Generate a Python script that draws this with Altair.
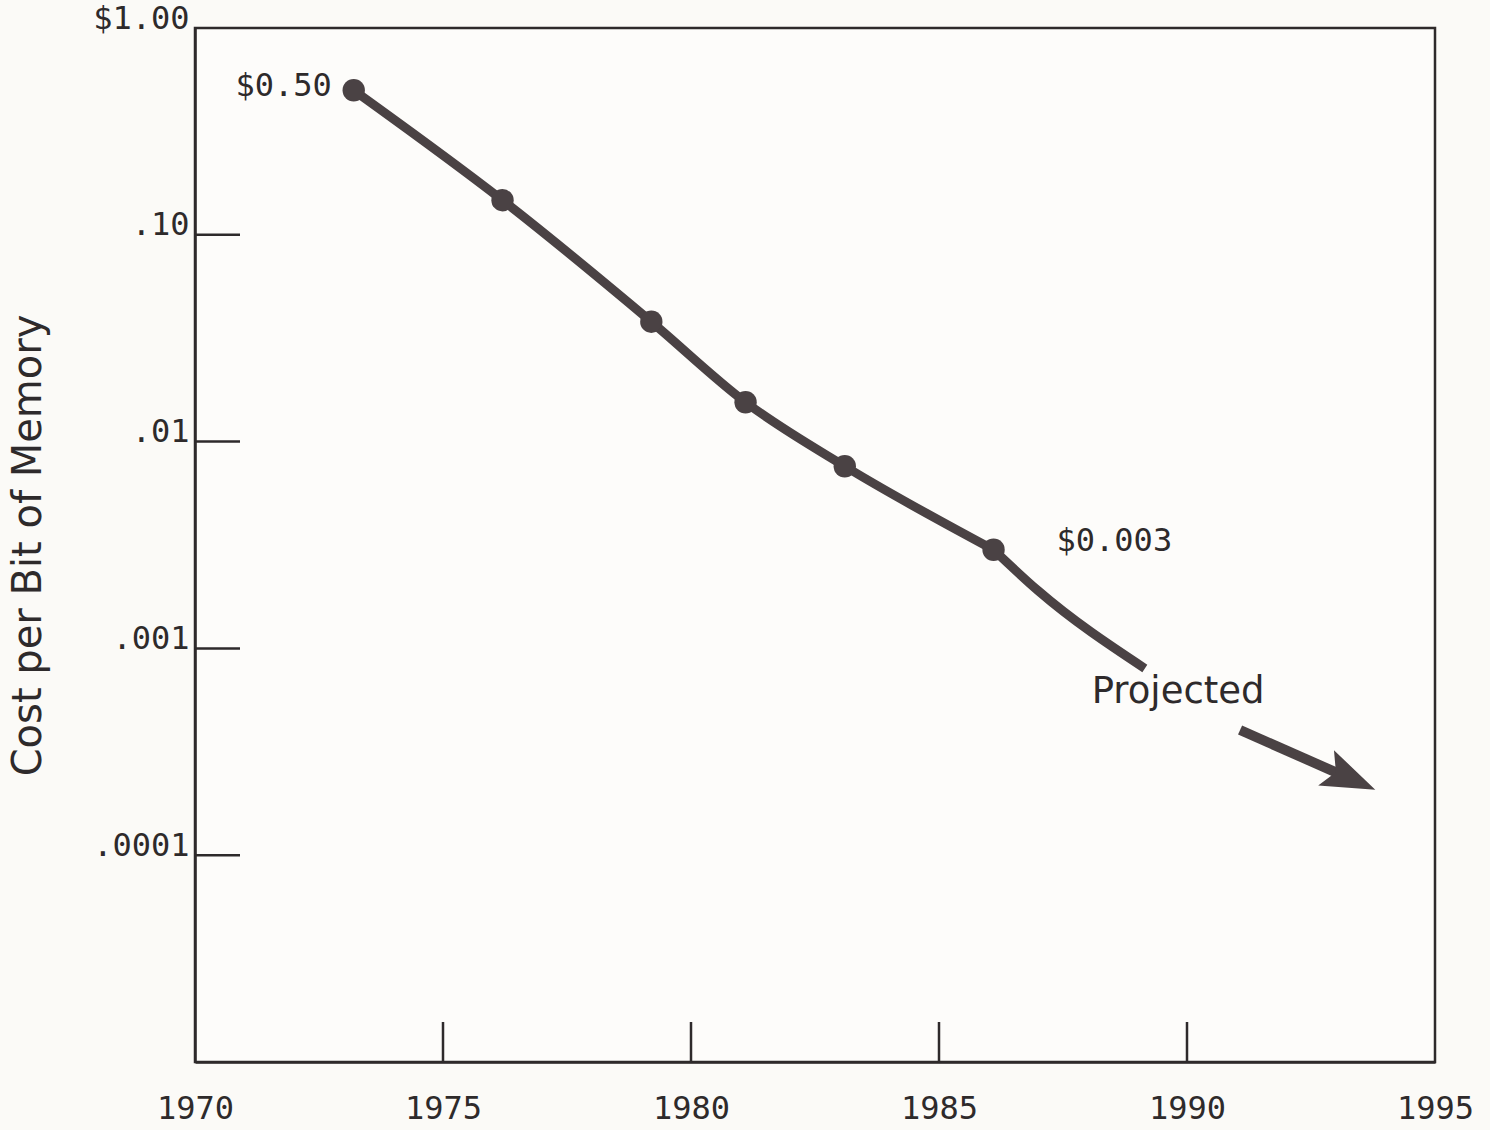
import altair as alt
import pandas as pd

# Measured cost per bit of memory (dollars)
years = [1973.2, 1976.2, 1979.2, 1981.1, 1983.1, 1986.1]
costs = [0.50, 0.147, 0.038, 0.0155, 0.0076, 0.003]

# Projected continuation beyond the last measurement
proj_years = [1986.1, 1987.0, 1989.15]
proj_costs = [0.003, 0.0019, 0.0008]

# Arrow showing the projected trend
arrow_years = [1991.07, 1993.3]
arrow_costs = [0.000403, 0.000234]
arrow_head_year = [1993.3]
arrow_head_cost = [0.000234]

# Value labels at the first and last measured points
value_labels = ["$0.50", "$0.003"]
value_label_years = [years[0], years[-1]]
value_label_costs = [costs[0], costs[-1]]

note_text = ["Projected"]
note_year = [1989.82]
note_cost = [0.000615]

y_ticks = [1.0, 0.1, 0.01, 0.001, 0.0001]
y_tick_labels = ["$1.00", ".10", ".01", ".001", ".0001"]
x_ticks = [1970, 1975, 1980, 1985, 1990, 1995]
inner_x_ticks = [1975, 1980, 1985, 1990]
inner_y_ticks = [0.1, 0.01, 0.001, 0.0001]

INK = "#4a4244"
AXIS_INK = "#2e2a2b"
MONO = "DejaVu Sans Mono"
SANS = "DejaVu Sans"

measured = pd.DataFrame({"year": years, "cost": costs})
projected = pd.DataFrame({"year": proj_years, "cost": proj_costs})
arrow = pd.DataFrame({"year": arrow_years, "cost": arrow_costs})
head = pd.DataFrame({"year": arrow_head_year, "cost": arrow_head_cost})
labels = pd.DataFrame({"year": value_label_years, "cost": value_label_costs, "text": value_labels})
note = pd.DataFrame({"year": note_year, "cost": note_cost, "text": note_text})
xt = pd.DataFrame({"year": inner_x_ticks})
yt = pd.DataFrame({"cost": inner_y_ticks})

# Tick label lookup by numeric comparison (tolerant of float representation)
label_expr = "".join(
    f"abs(datum.value - {v}) < {v} * 1e-6 ? '{t}' : " for v, t in zip(y_ticks, y_tick_labels)
) + "''"

x_scale = alt.Scale(domain=[1970, 1995], nice=False, zero=False)
y_scale = alt.Scale(type="log", domain=[0.00001, 1.0], nice=False)

x_axis = alt.Axis(
    values=x_ticks, format="d", title=None, grid=False, ticks=False,
    labelFont=MONO, labelFontSize=32, labelColor=AXIS_INK, labelPadding=31,
    labelBaseline="top", domainColor=AXIS_INK, domainWidth=2.5, labelFlush=False,
)
y_axis = alt.Axis(
    values=y_ticks, title="Cost per Bit of Memory", grid=False, ticks=False,
    labelExpr=label_expr,
    labelFont=MONO, labelFontSize=32, labelColor=AXIS_INK, labelPadding=6,
    labelBaseline="alphabetic", labelAlign="right", domainColor=AXIS_INK, domainWidth=2.5,
    titleFont=SANS, titleFontSize=40, titleFontWeight="normal", titleColor=AXIS_INK,
    titlePadding=44, labelFlush=False,
)

X = alt.X("year:Q", scale=x_scale, axis=x_axis)
Y = alt.Y("cost:Q", scale=y_scale, axis=y_axis)

line = alt.Chart(measured).mark_line(
    color=INK, strokeWidth=9, interpolate="monotone", strokeCap="round"
).encode(x=X, y=Y)

dots = alt.Chart(measured).mark_circle(color=INK, size=500, opacity=1).encode(
    x="year:Q", y="cost:Q"
)

proj_line = alt.Chart(projected).mark_line(
    color=INK, strokeWidth=9, interpolate="monotone"
).encode(x="year:Q", y="cost:Q")

arrow_line = alt.Chart(arrow).mark_line(color=INK, strokeWidth=10).encode(
    x="year:Q", y="cost:Q"
)

arrow_head = alt.Chart(head).mark_point(
    shape="M 1 0 L -1 -0.72 L -0.6 0 L -1 0.72 Z", filled=True, color=INK,
    size=2900, angle=24, opacity=1,
).encode(x="year:Q", y="cost:Q")

first_label = alt.Chart(labels.iloc[[0]]).mark_text(
    font=MONO, fontSize=32, color=AXIS_INK, align="right", baseline="middle", dx=-22, dy=-4
).encode(x="year:Q", y="cost:Q", text="text:N")

last_label = alt.Chart(labels.iloc[[1]]).mark_text(
    font=MONO, fontSize=32, color=AXIS_INK, align="left", baseline="middle", dx=63, dy=-9
).encode(x="year:Q", y="cost:Q", text="text:N")

note_mark = alt.Chart(note).mark_text(
    font=SANS, fontSize=37, color=AXIS_INK, align="center", baseline="middle"
).encode(x="year:Q", y="cost:Q", text="text:N")

x_inner_ticks = alt.Chart(xt).mark_rule(color=AXIS_INK, strokeWidth=2.5).encode(
    x="year:Q", y=alt.value(1034), y2=alt.value(994)
)
y_inner_ticks = alt.Chart(yt).mark_rule(color=AXIS_INK, strokeWidth=2.5).encode(
    y="cost:Q", x=alt.value(0), x2=alt.value(45)
)

chart = alt.layer(
    line, proj_line, arrow_line, arrow_head, dots,
    first_label, last_label, note_mark, x_inner_ticks, y_inner_ticks,
).properties(
    width=1240, height=1034,
    autosize=alt.AutoSizeParams(type="none"),
    padding={"left": 195, "top": 28, "right": 55, "bottom": 68},
    background="#fbfaf7",
).configure_view(
    stroke=AXIS_INK, strokeWidth=2.5, fill="#fdfcfa"
)

chart.save("out.html", embed_options={"renderer": "svg", "actions": False})
